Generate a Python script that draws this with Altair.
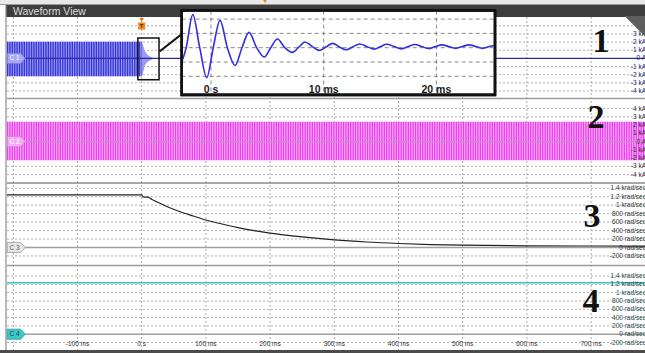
import altair as alt
import pandas as pd

W, H = 645, 356

# ---------------- data ----------------
GRID_MS = [-200, -100, 0, 100, 200, 300, 400, 500, 600, 700]
TICK_MS = [-100, 0, 100, 200, 300, 400, 500, 600, 700]
TICK_TXT = ["-100 ms", "0 s", "100 ms", "200 ms", "300 ms", "400 ms", "500 ms", "600 ms", "700 ms"]

P1_GRID = [4, 3, 2, 1, -1, -2, -3, -4]
P1_VALS = [3, 2, 1, 0, -1, -2, -3, -4]
P1_TXT = ["3 kA", "2 kA", "1 kA", "0 A", "-1 kA", "-2 kA", "-3 kA", "-4 kA"]

P2_VALS = [4, 3, 2, 1, 0, -1, -2, -3, -4]
P2_TXT = ["4 kA", "3 kA", "2 kA", "1 kA", "0 A", "-1 kA", "-2 kA", "-3 kA", "-4 kA"]

RAD_VALS = [1400, 1200, 1000, 800, 600, 400, 200, 0, -200]
RAD_TXT = ["1.4 krad/sec", "1.2 krad/sec", "1 krad/sec", "800 rad/sec", "600 rad/sec",
           "400 rad/sec", "200 rad/sec", "0 rad/sec", "-200 rad/sec"]

# C1 current (kA): envelope of the dense oscillation, then decay to zero
C1_T = [-210, 0, 2, 5, 9, 14, 20]
C1_HI = [2.05, 2.05, 1.6, 0.9, 0.45, 0.2, 0.0]
C1_LO = [-2.2, -2.2, -1.8, -0.9, -0.45, -0.2, 0.0]
C1_ZERO_T = [-210, 784]

# C2 current (kA): envelope of the dense oscillation
C2_T = [-210, 784]
C2_HI = [2.4, 2.4]
C2_LO = [-2.25, -2.25]

# C3 speed (rad/sec)
C3_T = [-210, 0, 1.5, 10, 16, 25, 40, 60, 80, 100, 125, 150, 175, 200, 250, 300,
        350, 400, 450, 500, 600, 700, 784]
C3_V = [1245, 1245, 1195, 1190, 1135, 1070, 965, 845, 745, 650, 555, 470, 400, 340,
        250, 180, 130, 95, 70, 55, 40, 35, 33]

# C4 speed (rad/sec)
C4_T = [-210, 784]
C4_V = [1240, 1240]

# Zoomed inset of C1 around the trigger (ms, kA)
INS_T = [-2.5, -2.2, -1.62, -1.0, -0.38, 0.2, 0.8, 1.45, 2.13, 2.75, 3.37, 4.05, 4.73,
         5.3, 5.89, 6.55, 7.22, 7.8, 8.34, 8.95, 9.6, 10.2, 10.8, 11.4, 12.0, 12.6,
         13.2, 13.85, 14.5, 15.05, 15.6, 16.25, 16.9, 17.5, 18.1, 18.7, 19.3, 19.9,
         20.5, 21.1, 21.7, 22.3, 22.9, 23.5, 24.1, 24.7, 25.2]
INS_V = [-0.8, 0.0, 2.31, 0.0, -2.1, 0.0, 1.91, 0.0, -1.24, 0.0, 1.07, 0.0, -0.65,
         0.0, 0.61, 0.0, -0.33, 0.05, 0.40, 0.1, -0.19, 0.05, 0.30, 0.05, -0.14, 0.07,
         0.26, 0.07, -0.1, 0.08, 0.24, 0.08, -0.08, 0.08, 0.22, 0.08, -0.06, 0.08,
         0.2, 0.08, -0.05, 0.08, 0.2, 0.08, -0.05, 0.08, 0.18]
INS_GRID_Y = [2, 1, 0, -1, -2]
INS_GRID_T = [0, 10, 20]
INS_TXT = ["0 s", "10 ms", "20 ms"]
INS_BOX_T = [-2.6, 25.2]
INS_BOX_V = [2.6, -3.3]
ZOOM_T = [-6, 27]
ZOOM_V = [2.5, -2.62]

# ---------------- scales ----------------
X0_PX, PX_MS = 141.7, 0.642
X_DOM = [-X0_PX / PX_MS, (W - X0_PX) / PX_MS]


def ydom(zero_px, px_per_unit):
    return [(zero_px - H) / px_per_unit, zero_px / px_per_unit]


K1, K2 = 8.15, 8.25
P1 = ydom(58.4, K1)
P2 = ydom(141.6, K2)
P3 = ydom(247.5, 0.0423)
P4 = ydom(334.2, 0.0415)
I_X0, I_PX = 211.0, 11.27
I_XDOM = [-I_X0 / I_PX, (W - I_X0) / I_PX]
I_Y = ydom(47.7, 14.3)

FONT = "Liberation Sans"


def X(field="t"):
    return alt.X(f"{field}:Q", scale=alt.Scale(domain=X_DOM), axis=None)


def Y(field, dom):
    return alt.Y(f"{field}:Q", scale=alt.Scale(domain=dom), axis=None)


def XI(field="t"):
    return alt.X(f"{field}:Q", scale=alt.Scale(domain=I_XDOM), axis=None)


ONE = pd.DataFrame({"a": [0]})
layers = []


def chrome_rect(x1, x2, y1, y2, color):
    return alt.Chart(ONE).mark_rect(color=color).encode(
        x=alt.value(x1), x2=alt.value(x2), y=alt.value(y1), y2=alt.value(y2))


def chrome_rule(x1, x2, y1, y2, color, w=1.0, dash=None):
    kw = dict(color=color, strokeWidth=w)
    if dash:
        kw["strokeDash"] = dash
    return alt.Chart(ONE).mark_rule(**kw).encode(
        x=alt.value(x1), x2=alt.value(x2), y=alt.value(y1), y2=alt.value(y2))


# frame & title bar
layers += [
    chrome_rect(0, W, 0, H, "#ffffff"),
    chrome_rect(0, W, 0, 4, "#e8e8e8"),
    chrome_rule(0, W, 4.5, 4.5, "#9a9a9a"),
    chrome_rect(6, W, 5, 17, "#3d3d3d"),
    alt.Chart(ONE).mark_text(text="Waveform View", font=FONT, fontSize=10.5, color="#dcdcdc",
                             align="left", baseline="middle").encode(x=alt.value(13), y=alt.value(11.5)),
    chrome_rule(6, 6, 5, 352, "#8a8a8a", 1.2),
    chrome_rect(0, W, 350, 353, "#4a4a4a"),
]

# vertical grid
vg = pd.DataFrame({"t": GRID_MS})
layers.append(alt.Chart(vg).mark_rule(color="#a8a8a8", strokeDash=[2, 2], strokeWidth=1).encode(
    x=X(), y=alt.value(17), y2=alt.value(350)))


# horizontal grids per panel
def hgrid(vals, dom):
    return alt.Chart(pd.DataFrame({"v": vals})).mark_rule(
        color="#b0b0b0", strokeDash=[2, 2], strokeWidth=1).encode(
        y=Y("v", dom), x=alt.value(7), x2=alt.value(W))


layers += [hgrid(P1_GRID, P1), hgrid(P2_VALS, P2), hgrid([v for v in RAD_VALS if v != 0], P3),
           hgrid([v for v in RAD_VALS if v != 0], P4)]

# panel separators
layers += [
    chrome_rule(7, W, 98.5, 98.5, "#9c9c9c", 1.5),
    chrome_rule(7, W, 183, 183, "#8a8a8a", 1.5),
    chrome_rule(7, W, 265.5, 265.5, "#9c9c9c", 1.5),
]

# baselines
zero = pd.DataFrame({"t": [-210, 784], "v": [0, 0]})
layers += [
    alt.Chart(zero).mark_line(color="#a0a0a0", strokeWidth=1.5).encode(x=X(), y=Y("v", P3)),
    alt.Chart(zero).mark_line(color="#a0a0a0", strokeWidth=1.5).encode(x=X(), y=Y("v", P4)),
]

# traces
c1 = pd.DataFrame({"t": C1_T, "hi": C1_HI, "lo": C1_LO})
c1s = pd.DataFrame({"t": [C1_T[0], C1_T[1]], "v": [(C1_HI[0] + C1_LO[0]) / 2] * 2})
c1z = pd.DataFrame({"t": C1_ZERO_T, "v": [0, 0]})
c2 = pd.DataFrame({"t": C2_T, "hi": C2_HI, "lo": C2_LO})
c2s = pd.DataFrame({"t": C2_T, "v": [(C2_HI[0] + C2_LO[0]) / 2] * 2})
c3 = pd.DataFrame({"t": C3_T, "v": C3_V})
c4 = pd.DataFrame({"t": C4_T, "v": C4_V})
layers += [
    # C1: light envelope + dense vertical strokes of the oscillation
    alt.Chart(c1).mark_area(color="#9a9af0", opacity=1, interpolate="monotone").encode(
        x=X(), y=Y("hi", P1), y2="lo:Q"),
    alt.Chart(c1s).mark_line(color="#3535d8", strokeWidth=(C1_HI[0] - C1_LO[0]) * K1,
                             strokeDash=[1.3, 1.1], strokeCap="butt").encode(x=X(), y=Y("v", P1)),
    alt.Chart(c1z).mark_line(color="#2a2aa8", strokeWidth=1.1).encode(x=X(), y=Y("v", P1)),
    # C2
    alt.Chart(c2).mark_area(color="#f7b2f7", opacity=1).encode(x=X(), y=Y("hi", P2), y2="lo:Q"),
    alt.Chart(c2s).mark_line(color="#f03cf0", strokeWidth=(C2_HI[0] - C2_LO[0]) * K2,
                             strokeDash=[1.3, 1.1], strokeCap="butt").encode(x=X(), y=Y("v", P2)),
    alt.Chart(zero).mark_line(color="#c090c0", strokeWidth=1.3).encode(x=X(), y=Y("v", P2)),
    # C3, C4
    alt.Chart(c3).mark_line(color="#222222", strokeWidth=1.2, interpolate="monotone").encode(
        x=X(), y=Y("v", P3)),
    alt.Chart(c4).mark_line(color="#3cc8c8", strokeWidth=1.6).encode(x=X(), y=Y("v", P4)),
]


# right side labels
def rlabels(vals, txt, dom, color):
    return alt.Chart(pd.DataFrame({"v": vals, "s": txt})).mark_text(
        font=FONT, fontSize=6.5, color=color, align="right", baseline="middle").encode(
        y=Y("v", dom), x=alt.value(646), text="s:N")


layers += [
    rlabels(P1_VALS, P1_TXT, P1, "#22226e"),
    rlabels(P2_VALS, P2_TXT, P2, "#3a2a3a"),
    rlabels(RAD_VALS, RAD_TXT, P3, "#333333"),
    rlabels(RAD_VALS, RAD_TXT, P4, "#1d4a4a"),
]

# x tick labels
layers.append(alt.Chart(pd.DataFrame({"t": TICK_MS, "s": TICK_TXT})).mark_text(
    font=FONT, fontSize=6.5, color="#333333", baseline="middle").encode(
    x=X(), y=alt.value(344), text="s:N"))

# channel markers
MARK = "M-1,-0.56 L0.5,-0.56 L1,0 L0.5,0.56 L-1,0.56 Z"


def marker(dom, fill, stroke, label, tcolor):
    d = pd.DataFrame({"v": [0], "s": [label]})
    return [
        alt.Chart(d).mark_point(shape=MARK, size=324, filled=True, fill=fill, stroke=stroke,
                                strokeWidth=0.8, opacity=1).encode(x=alt.value(16.2), y=Y("v", dom)),
        alt.Chart(d).mark_text(font=FONT, fontSize=6.5, color=tcolor, align="center",
                               baseline="middle").encode(x=alt.value(14.5), y=Y("v", dom), text="s:N"),
    ]


layers += marker(P1, "#a9a9f2", "#7d7de0", "C 1", "#ffffff")
layers += marker(P2, "#f3aef3", "#d880d8", "C 2", "#ffffff")
layers += marker(P3, "#e6e6e6", "#9a9a9a", "C 3", "#555555")
layers += marker(P4, "#3cc8c8", "#22a0a0", "C 4", "#1b4040")

# big panel numbers
for txt, x, y in [("1", 601, 52), ("2", 596, 128), ("3", 592, 227), ("4", 591, 312)]:
    layers.append(alt.Chart(ONE).mark_text(text=txt, font="Liberation Serif", fontWeight="bold",
                                           fontSize=34, color="#111111", align="center",
                                           baseline="alphabetic").encode(x=alt.value(x), y=alt.value(y)))

# zoom box in main panel and connector
zb = pd.DataFrame({"t": [ZOOM_T[0]], "t2": [ZOOM_T[1]], "v": [ZOOM_V[0]], "v2": [ZOOM_V[1]]})
layers += [
    alt.Chart(zb).mark_rect(fillOpacity=0, stroke="#111111", strokeWidth=1.5).encode(
        x=X(), x2="t2:Q", y=Y("v", P1), y2="v2:Q"),
    chrome_rule(159.5, 182.5, 51.5, 33.5, "#111111", 2.2),
]

# inset
ib = pd.DataFrame({"t": [INS_BOX_T[0]], "t2": [INS_BOX_T[1]], "v": [INS_BOX_V[0]], "v2": [INS_BOX_V[1]]})
igy = pd.DataFrame({"v": INS_GRID_Y, "t": [INS_BOX_T[0]] * 5, "t2": [INS_BOX_T[1]] * 5})
igx = pd.DataFrame({"t": INS_GRID_T, "v": [INS_BOX_V[0]] * 3, "v2": [INS_BOX_V[1]] * 3})
ins = pd.DataFrame({"t": INS_T, "v": INS_V})
itx = pd.DataFrame({"t": INS_GRID_T, "s": INS_TXT})
layers += [
    alt.Chart(ib).mark_rect(fill="#ffffff", stroke="#111111", strokeWidth=2.6).encode(
        x=XI(), x2="t2:Q", y=Y("v", I_Y), y2="v2:Q"),
    alt.Chart(igy).mark_rule(color="#7a7a7a", strokeDash=[4, 3], strokeWidth=0.9).encode(
        y=Y("v", I_Y), x=XI(), x2="t2:Q"),
    alt.Chart(igx).mark_rule(color="#7a7a7a", strokeDash=[4, 3], strokeWidth=0.9).encode(
        x=XI(), y=Y("v", I_Y), y2="v2:Q"),
    alt.Chart(ins).mark_line(color="#2f2fe0", strokeWidth=1.6, interpolate="monotone").encode(
        x=XI(), y=Y("v", I_Y)),
    alt.Chart(itx).mark_text(font=FONT, fontSize=10.5, fontWeight="bold", color="#1a1a1a",
                             baseline="alphabetic").encode(x=XI(), y=alt.value(92.5), text="s:N"),
    alt.Chart(ib).mark_rect(fillOpacity=0, stroke="#111111", strokeWidth=2.6).encode(
        x=XI(), x2="t2:Q", y=Y("v", I_Y), y2="v2:Q"),
]

# trigger marker & misc icons
trig = pd.DataFrame({"t": [0]})
layers += [
    alt.Chart(trig).mark_point(shape="triangle-down", size=22, filled=True, color="#e8801a",
                               opacity=1).encode(x=X(), y=alt.value(20)),
    alt.Chart(trig).mark_point(shape="square", size=50, filled=True, color="#f08a1c",
                               opacity=1).encode(x=X(), y=alt.value(26)),
    alt.Chart(trig).mark_text(text="T", font=FONT, fontSize=6, fontWeight="bold", color="#5a2a00",
                              baseline="middle").encode(x=X(), y=alt.value(26.3)),
    alt.Chart(ONE).mark_point(shape="triangle-down", size=14, filled=True, color="#e8801a",
                              opacity=1).encode(x=alt.value(265), y=alt.value(1.5)),
    alt.Chart(ONE).mark_point(shape="M-1,-1 L1,-1 L1,1 Z", size=324, filled=True, fill="#5e5e5e",
                              stroke="#5e5e5e", opacity=1).encode(x=alt.value(636), y=alt.value(26)),
]

chart = alt.layer(*layers).resolve_scale(x="independent", y="independent").properties(
    width=W, height=H, padding=0, autosize=alt.AutoSizeParams(type="none"),
    background="#ffffff",
).configure_view(stroke=None)

chart.save("out.html", embed_options={"renderer": "svg", "actions": False})
